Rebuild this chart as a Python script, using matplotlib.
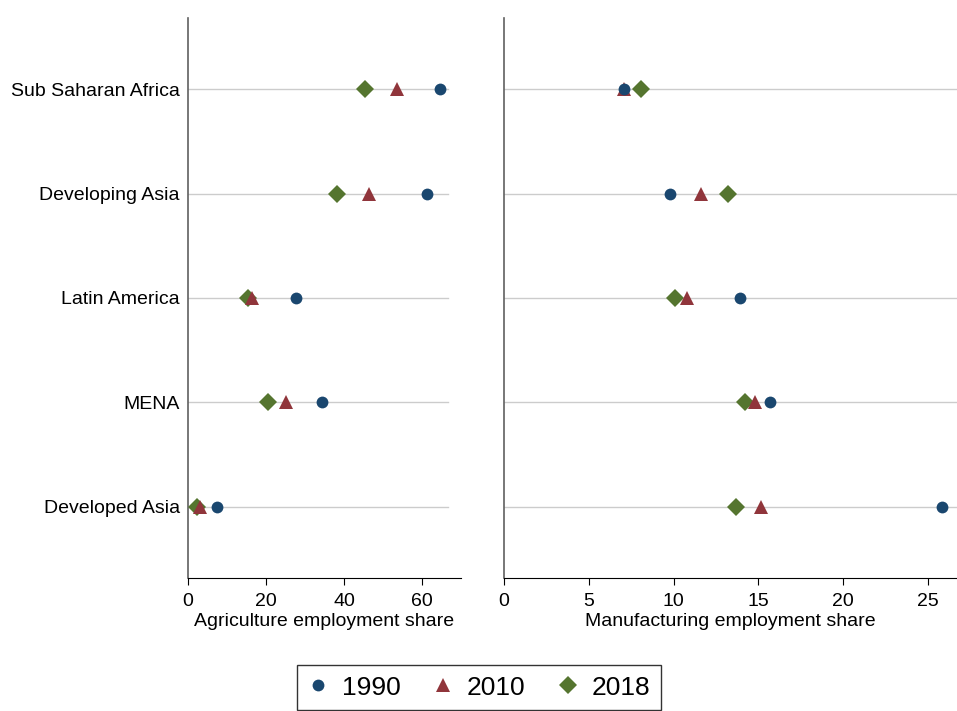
import matplotlib
matplotlib.use("Agg")
from matplotlib import pyplot as plt
from matplotlib import font_manager

names = {f.name for f in font_manager.fontManager.ttflist}
narrow = 'Liberation Sans Narrow' if 'Liberation Sans Narrow' in names else 'Liberation Sans'
plt.rcParams['font.family'] = ['Liberation Sans', 'DejaVu Sans']

regions = ['Sub Saharan Africa', 'Developing Asia', 'Latin America', 'MENA', 'Developed Asia']
years = ['1990', '2010', '2018']

# agriculture employment share, per region
agri_1990 = [64.5, 61.3, 27.6, 34.3, 7.4]
agri_2010 = [53.6, 46.5, 16.3, 25.2, 3.1]
agri_2018 = [45.4, 38.2, 15.3, 20.4, 2.4]

# manufacturing employment share
manu_1990 = [7.1, 9.8, 13.9, 15.7, 25.8]
manu_2010 = [7.1, 11.6, 10.8, 14.8, 15.15]
manu_2018 = [8.1, 13.2, 10.1, 14.2, 13.7]

colors = {'1990': '#1a476f', '2010': '#90353b', '2018': '#55752f'}
markers = {'1990': 'o', '2010': '^', '2018': 'D'}
msize = {'1990': 8.5, '2010': 9.5, '2018': 9}

fig = plt.figure(figsize=(9.57, 7.11), dpi=100)
ax1 = fig.add_axes([188/957, 1-578/711, (461-188)/957, 560/711])
ax2 = fig.add_axes([504/957, 1-578/711, (957-504)/957, 560/711])

ypos = list(range(len(regions)))


def panel(ax, data, xlim, ticks, label, grid_end):
    for y in ypos:
        ax.plot([0, grid_end], [y, y], color='#cccccc', lw=1, zorder=1)
    # 2018 first so 1990 ends up on top
    for yr in ['2018', '2010', '1990']:
        ax.plot(data[yr], ypos, linestyle='none', marker=markers[yr], ms=msize[yr],
                color=colors[yr], markeredgewidth=0, zorder=3, label=yr, clip_on=False)
    ax.set_xlim(*xlim)
    ax.set_ylim(len(regions) - 0.32, -0.68)
    ax.set_xticks(ticks)
    ax.tick_params(axis='x', length=5, width=0.8, labelsize=14, pad=6)
    for t in ax.get_xticklabels():
        t.set_fontfamily(narrow)
    ax.set_xlabel(label, fontsize=14, labelpad=2, fontfamily=narrow)
    ax.spines['top'].set_visible(False)
    ax.spines['right'].set_visible(False)
    ax.spines['left'].set_color('#606060')
    ax.spines['left'].set_linewidth(1.2)
    ax.spines['bottom'].set_color('black')
    ax.spines['bottom'].set_linewidth(0.8)


panel(ax1, {'1990': agri_1990, '2010': agri_2010, '2018': agri_2018},
      (0, 70), [0, 20, 40, 60], 'Agriculture employment share', 66.7)
panel(ax2, {'1990': manu_1990, '2010': manu_2010, '2018': manu_2018},
      (0, 26.7), [0, 5, 10, 15, 20, 25], 'Manufacturing employment share', 26.7)

ax1.set_yticks(ypos)
ax1.set_yticklabels(regions, fontsize=14)
ax1.tick_params(axis='y', length=0, pad=6)
ax2.set_yticks([])

handles, labels = ax1.get_legend_handles_labels()
order = [labels.index(y) for y in years]
leg = fig.legend([handles[i] for i in order], years, loc='upper center',
                 bbox_to_anchor=(479/957, 1-665/711), ncol=3, fontsize=19,
                 frameon=True, fancybox=False, edgecolor='black', borderpad=0.4,
                 borderaxespad=0, columnspacing=1.2, handletextpad=0.5,
                 handlelength=0.8)
leg.get_frame().set_linewidth(1.0)

fig.savefig('out.png', dpi=100)
